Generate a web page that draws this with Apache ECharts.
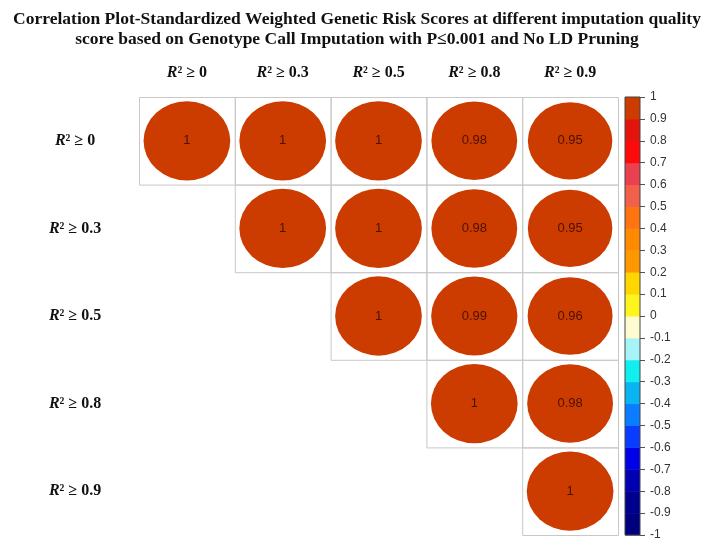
<!DOCTYPE html>
<html>
<head>
<meta charset="utf-8">
<script src="https://cdn.jsdelivr.net/npm/echarts@6/dist/echarts.min.js"></script>
<style>html,body{margin:0;padding:0;background:#fff}#c{width:714px;height:557px}</style>
</head>
<body>
<div id="c"></div>
<script>
// ---- data ----
var titleLines = [
  'Correlation Plot-Standardized Weighted Genetic Risk Scores at different imputation quality',
  'score based on Genotype Call Imputation with P\u22640.001 and No LD Pruning'
];
var thresholds = ['0', '0.3', '0.5', '0.8', '0.9'];
var row0 = [1, 1, 1, 0.98, 0.95];
var row1 = [null, 1, 1, 0.98, 0.95];
var row2 = [null, null, 1, 0.99, 0.96];
var row3 = [null, null, null, 1, 0.98];
var row4 = [null, null, null, null, 1];
var corrRows = [row0, row1, row2, row3, row4];
var bandBreaks = [-1, -0.9, -0.8, -0.7, -0.6, -0.5, -0.4, -0.3, -0.2, -0.1, 0, 0.1, 0.2, 0.3, 0.4, 0.5, 0.6, 0.7, 0.8, 0.9, 1];
var bandColors = ['#00007f', '#00008f', '#0000b0', '#0000e6', '#0a3cff', '#0a7cff', '#0ab4f0', '#10eef0', '#a6f4f8', '#fffbd0',
                  '#fff51e', '#ffd600', '#ff9800', '#ff8a00', '#ff7410', '#f0604a', '#ea4050', '#ff0a0a', '#e3140c', '#cc3c00'];

// ---- build ----
var cats = thresholds.map(function (t) { return 'R|' + t; });
var cellData = [];
corrRows.forEach(function (row, i) {
  row.forEach(function (v, j) {
    if (v !== null) cellData.push([j, i, v]);
  });
});
var bands = [];
for (var k = 0; k < bandColors.length; k++) bands.push([0, bandBreaks[k], bandBreaks[k + 1], bandColors[k]]);
var pieces = bands.map(function (b) { return { gte: b[1], lt: b[2] + (b[2] === 1 ? 0.0001 : 0), color: b[3] }; });

var rich = {
  r: { fontFamily: 'Liberation Serif', fontWeight: 'bold', fontStyle: 'italic', fontSize: 16, color: '#111' },
  s: { fontFamily: 'Liberation Serif', fontWeight: 'bold', fontSize: 16, color: '#111' }
};
function lab(v) { return '{r|R}{s|\u00b2 \u2265 ' + v.split('|')[1] + '}'; }

var chart = echarts.init(document.getElementById('c'), null, { renderer: 'canvas' });
var CW = 479 / 5, CH = 438 / 5;
chart.setOption({
  animation: false,
  backgroundColor: '#fff',
  title: {
    text: titleLines.join('\n'), left: 'center', top: 4,
    textStyle: { fontFamily: 'Liberation Serif', fontWeight: 'bold', fontSize: 17.5, lineHeight: 20, color: '#111' }
  },
  visualMap: { show: false, type: 'piecewise', seriesIndex: 1, dimension: 2, pieces: pieces },
  grid: [
    { left: 139, right: 96, top: 97, bottom: 22 },
    { left: 625, width: 15, top: 97, bottom: 22 }
  ],
  xAxis: [
    { type: 'category', data: cats, position: 'top', gridIndex: 0,
      axisLine: { show: false }, axisTick: { show: false }, splitLine: { show: false },
      axisLabel: { interval: 0, formatter: lab, rich: rich, margin: 24, verticalAlign: 'middle' } },
    { type: 'category', data: ['bar'], gridIndex: 1, show: false }
  ],
  yAxis: [
    { type: 'category', data: cats, inverse: true, gridIndex: 0,
      axisLine: { show: false }, axisTick: { show: false }, splitLine: { show: false },
      axisLabel: { interval: 0, formatter: lab, rich: rich, margin: 64, align: 'center' } },
    { type: 'value', gridIndex: 1, min: -1, max: 1, interval: 0.1, position: 'right',
      axisLine: { show: false }, splitLine: { show: false },
      axisTick: { show: true, length: 5, lineStyle: { color: '#555' } },
      axisLabel: { margin: 10, fontFamily: 'Liberation Sans', fontSize: 12, color: '#333' } }
  ],
  series: [
    { type: 'custom', xAxisIndex: 0, yAxisIndex: 0, data: cellData, silent: true, z: 1,
      renderItem: function (params, api) {
        var c = api.coord([api.value(0), api.value(1)]);
        var s = api.size([1, 1]);
        return { type: 'rect', shape: { x: c[0] - s[0] / 2 + 0.5, y: c[1] - s[1] / 2 + 0.5, width: s[0], height: s[1] },
          style: { fill: 'none', stroke: '#c8c8c8', lineWidth: 1 } };
      } },
    { type: 'scatter', xAxisIndex: 0, yAxisIndex: 0, data: cellData, z: 2,
      symbol: 'circle',
      symbolSize: function (v) { var f = Math.sqrt(Math.abs(v[2])); return [CW * 0.905 * f, CH * 0.905 * f]; },
      itemStyle: { opacity: 1 },
      label: { show: true, position: 'inside', formatter: function (p) { return String(p.value[2]); },
        fontFamily: 'Liberation Sans', fontSize: 13, color: '#4a1200' } },
    { type: 'custom', xAxisIndex: 1, yAxisIndex: 1, data: bands, silent: true,
      renderItem: function (params, api) {
        var lo = api.coord([0, api.value(1)]);
        var hi = api.coord([0, api.value(2)]);
        var w = api.size([1, 0])[0];
        return { type: 'rect', shape: { x: lo[0] - w / 2, y: hi[1], width: w, height: lo[1] - hi[1] + 0.5 },
          style: { fill: bands[params.dataIndex][3] } };
      } },
    { type: 'custom', xAxisIndex: 1, yAxisIndex: 1, data: [[0, -1, 1]], silent: true, z: 3,
      renderItem: function (params, api) {
        var lo = api.coord([0, api.value(1)]);
        var hi = api.coord([0, api.value(2)]);
        var w = api.size([1, 0])[0];
        return { type: 'rect', shape: { x: lo[0] - w / 2, y: hi[1], width: w, height: lo[1] - hi[1] },
          style: { fill: 'none', stroke: '#444', lineWidth: 1 } };
      } }
  ]
});
</script>
</body>
</html>
